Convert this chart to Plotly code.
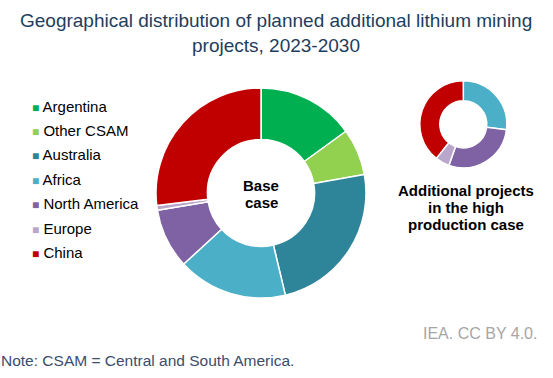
import plotly.graph_objects as go

labels = ["Argentina", "Other CSAM", "Australia", "Africa", "North America", "Europe", "China"]
colors = ["#00B050", "#92D050", "#2E8599", "#4BAFC8", "#7F62A4", "#B8A6CB", "#C00000"]
base_case = [15.0, 7.2, 24.1, 16.9, 9.2, 0.75, 26.9]
high_case = [0, 0, 0, 27.0, 28.3, 5.3, 39.3]
title_lines = ["Geographical distribution of planned additional lithium mining", "projects, 2023-2030"]
base_label = ["Base", "case"]
high_label = ["Additional projects", "in the high", "production case"]

W, H = 553, 378
FONT = "Liberation Sans, Arial, sans-serif"

fig = go.Figure()
fig.add_trace(go.Pie(
    labels=labels, values=base_case, hole=0.51, sort=False, direction="clockwise",
    rotation=0, marker=dict(colors=colors, line=dict(color="white", width=1.5)),
    textinfo="none", showlegend=False,
    domain=dict(x=[156 / W, 366 / W], y=[1 - 298 / H, 1 - 88 / H]),
))
fig.add_trace(go.Pie(
    labels=labels, values=high_case, hole=0.54, sort=False, direction="clockwise",
    rotation=0, marker=dict(colors=colors, line=dict(color="white", width=1.5)),
    textinfo="none", showlegend=False,
    domain=dict(x=[419.8 / W, 506.8 / W], y=[1 - 167.8 / H, 1 - 80.8 / H]),
))


def ann(x, y, text, size, color, xanchor="center", bold=False):
    return dict(x=x / W, y=1 - y / H, xref="paper", yref="paper",
                xanchor=xanchor, yanchor="middle",
                text=f"<b>{text}</b>" if bold else text, showarrow=False,
                font=dict(family=FONT, size=size, color=color))


annotations = []
for i, (lab, col) in enumerate(zip(labels, colors)):
    annotations.append(ann(30, 106 + i * 24.4,
                           f'<span style="color:{col};font-size:12px">■</span> {lab}',
                           15, "#000000", xanchor="left"))

for i, t in enumerate(title_lines):
    annotations.append(ann(276, 20.5 + i * 25, t, 19, "#1F3D5C"))
for i, t in enumerate(base_label):
    annotations.append(ann(261, 185 + i * 17, t, 15, "#000000", bold=True))
for i, t in enumerate(high_label):
    annotations.append(ann(466, 190 + i * 17, t, 15, "#000000", bold=True))

annotations.append(ann(539, 333, "IEA. CC BY 4.0.", 16, "#A6A6A6", xanchor="right"))
annotations.append(ann(-1, 360, "Note: CSAM = Central and South America.", 15.5, "#3A4E6B", xanchor="left"))

fig.update_layout(
    width=W, height=H, margin=dict(l=0, r=0, t=0, b=0),
    paper_bgcolor="white", plot_bgcolor="white",
    annotations=annotations, showlegend=False,
)
fig.write_html("out.html", config={"displayModeBar": False},
               post_script="document.body.style.margin='0';")
